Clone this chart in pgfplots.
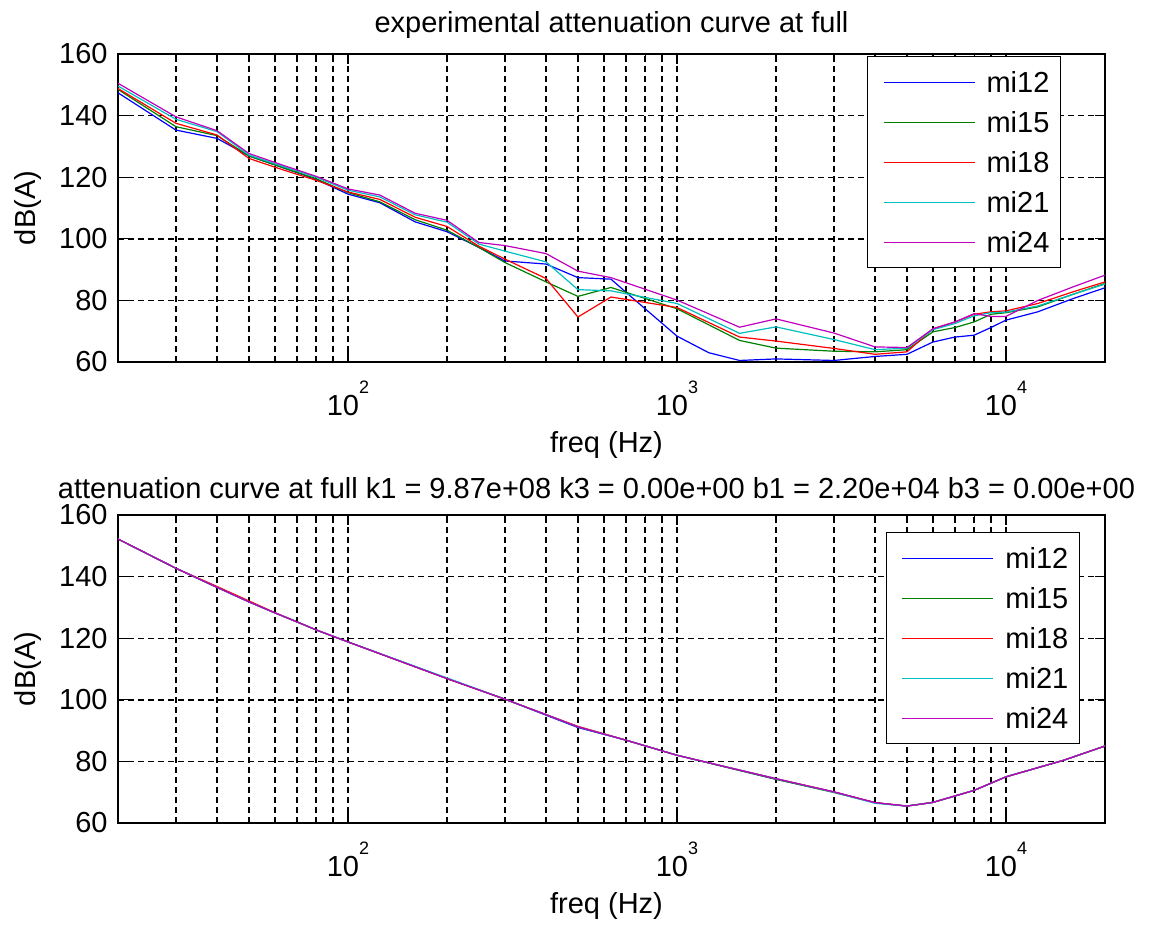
\documentclass[border=0pt]{standalone}
\usepackage{fontspec}
\setmainfont{Liberation Sans}
\usepackage{pgfplots}
\usepackage{pgfplotstable}
\pgfplotsset{compat=1.18}
\definecolor{mblue}{rgb}{0,0,1}
\definecolor{mgreen}{rgb}{0,0.5,0}
\definecolor{mred}{rgb}{1,0,0}
\definecolor{mcyan}{rgb}{0,0.75,0.75}
\definecolor{mmag}{rgb}{0.75,0,0.75}
\newcommand{\fs}{\fontsize{14.5}{17}\selectfont}
\newcommand{\tp}[1]{10\raisebox{10.8pt}{\fontsize{9}{9}\selectfont #1}}

\pgfplotstableread{
f a b c d e
20 147.4 148.5 148.8 149.6 150.5
30 135.3 136.4 137.5 138.8 139.6
40 132.6 133.5 133.7 134.8 135.1
50 126.9 126.9 126.1 127.2 127.7
63 123.2 123.2 122.5 123.6 124.0
80 119.3 119.5 119.0 120.0 120.3
100 114.5 115.0 115.2 115.8 116.2
125 111.7 112.0 112.8 113.6 114.2
160 105.5 106.2 107.0 107.8 108.3
200 102.3 102.8 104.0 105.4 106.0
250 97.2 97.2 97.6 98.3 98.8
300 92.8 92.3 93.4 96.0 97.8
400 91.8 86.0 87.1 92.5 95.2
500 87.4 81.3 74.6 83.5 89.5
630 86.9 84.2 81.1 83.1 87.4
720 81.5 nan nan nan nan
900 72.6 nan nan nan nan
1000 68.4 77.3 77.7 79.0 80.1
1250 63.0 nan nan nan nan
1550 60.5 67.0 68.1 69.3 71.3
2000 61.0 64.5 66.8 71.4 74.0
3000 60.5 63.5 64.4 67.3 69.4
4000 61.8 63.3 62.5 64.0 64.9
5000 62.5 64.0 63.3 64.5 64.7
6000 66.5 69.8 70.8 70.5 70.8
7000 68.1 71.2 73.0 72.5 73.0
8000 68.7 73.0 75.5 75.0 75.7
9000 71.2 75.5 76.3 76.0 74.8
10000 73.6 76.0 76.6 76.2 74.8
12500 76.3 77.9 79.0 78.2 80.0
16000 80.6 82.0 82.8 82.0 84.4
20000 84.1 85.5 86.0 85.3 88.2
}\topdata

\pgfplotstableread{
f a b c d e
20 152.2 152.2 152.2 152.2 152.2
30 142.7 142.7 142.7 142.7 142.7
40 136.5 136.5 136.8 136.5 136.5
50 131.8 131.8 132.1 131.8 131.8
60 128.2 128.2 128.3 128.2 128.2
70 125.3 125.3 125.3 125.3 125.3
80 122.7 122.7 122.7 122.7 122.7
100 118.8 118.8 118.8 118.8 118.8
200 106.9 106.9 106.9 107.1 106.9
300 100.2 100.2 100.2 100.2 100.2
400 95.0 95.2 95.2 95.2 95.2
500 91.0 91.2 91.4 91.2 91.2
700 86.9 86.9 86.9 86.9 86.9
1000 82.0 82.0 82.0 82.0 82.0
2000 74.2 74.2 74.4 74.4 74.4
3000 70.1 69.9 70.1 70.0 70.1
4000 66.6 66.6 66.6 66.4 66.6
5000 65.5 65.5 65.5 65.5 65.5
6000 66.7 66.7 66.7 66.7 66.7
8000 70.6 70.6 70.6 70.6 70.6
10000 75.0 75.0 75.0 75.0 75.0
15000 80.4 80.4 80.4 80.4 80.4
20000 85.0 85.0 85.0 85.0 85.0
}\botdata

\pgfplotsset{
  legend image code/.code={
    \path[draw=none,fill=none] (0pt,-5pt) rectangle (54pt,5pt);
    \draw[#1] (2.5pt,0pt) -- (48pt,0pt);
  },
}
\pgfplotsset{
  mystyle/.style={
    scale only axis,
    width=493.5pt, height=154pt,
    xmin=20, xmax=20000, ymin=60, ymax=160,
    ytick={60,80,100,120,140,160},
    xtick={100,1000,10000},
    xticklabels={\tp{2},\tp{3},\tp{4}},
    minor xtick={30,40,50,60,70,80,90,200,300,400,500,600,700,800,900,2000,3000,4000,5000,6000,7000,8000,9000},
    grid=both,
    major grid style={black, line width=0.7pt, dash pattern=on 3pt off 2pt},
    minor grid style={black, line width=0.7pt, dash pattern=on 3pt off 2pt},
    tick align=inside,
    major tick length=5pt, minor tick length=3pt,
    tick style={black, line width=0.6pt},
    axis line style={black, line width=0.8pt},
    ticklabel style={font=\fs},
    yticklabel style={anchor=east, inner sep=0pt, xshift=-5pt},
    xticklabel style={anchor=base, inner sep=0pt, yshift=-26.5pt},
    xlabel={freq (Hz)}, ylabel={dB(A)},
    label style={font=\fs},
    xlabel style={at={(axis description cs:0.5,0)}, anchor=base, yshift=-45pt, xshift=-2.5pt},
    ylabel style={at={(axis description cs:-0.0912,0.5)}, anchor=center},
    title style={at={(axis description cs:0.5,1)}, anchor=base, font=\fs, yshift=5pt},
    unbounded coords=discard,
    legend cell align=left,
    legend style={anchor=north east,
      draw=black, line width=0.6pt, fill=white, font=\fs,
      inner xsep=5.5pt, inner ysep=2.75pt, row sep=0pt,
      nodes={inner sep=0pt, text height=15pt, text depth=5pt}},
  }
}

\begin{document}
\begin{tikzpicture}
\useasboundingbox (-59pt,-283pt) rectangle (525pt,181pt);
\begin{semilogxaxis}[mystyle, /pgf/number format/assume math mode=true, at={(0,0)}, anchor=south west,
  title={experimental attenuation curve at full},
  legend style={at={(axis description cs:0.9554,0.9935)}}]
\addplot[mblue, line width=0.6pt] table[x=f,y=a]{\topdata};
\addplot[mgreen, line width=0.6pt] table[x=f,y=b]{\topdata};
\addplot[mred, line width=0.6pt] table[x=f,y=c]{\topdata};
\addplot[mcyan, line width=0.6pt] table[x=f,y=d]{\topdata};
\addplot[mmag, line width=0.6pt] table[x=f,y=e]{\topdata};
\legend{mi12,mi15,mi18,mi21,mi24}
\end{semilogxaxis}
\begin{semilogxaxis}[mystyle, /pgf/number format/assume math mode=true, at={(0,-230.5pt)}, anchor=south west,
  title={attenuation curve at full k1 = 9.87e+08 k3 = 0.00e+00 b1 = 2.20e+04 b3 = 0.00e+00},
  title style={yshift=-2.5pt, xshift=-7.5pt},
  legend style={at={(axis description cs:0.9746,0.9448)}}]
\addplot[mblue, line width=0.6pt] table[x=f,y=a]{\botdata};
\addplot[mgreen, line width=0.6pt] table[x=f,y=b]{\botdata};
\addplot[mred, line width=0.6pt] table[x=f,y=c]{\botdata};
\addplot[mcyan, line width=0.6pt] table[x=f,y=d]{\botdata};
\addplot[mmag, line width=0.6pt] table[x=f,y=e]{\botdata};
\legend{mi12,mi15,mi18,mi21,mi24}
\end{semilogxaxis}
\end{tikzpicture}
\end{document}
